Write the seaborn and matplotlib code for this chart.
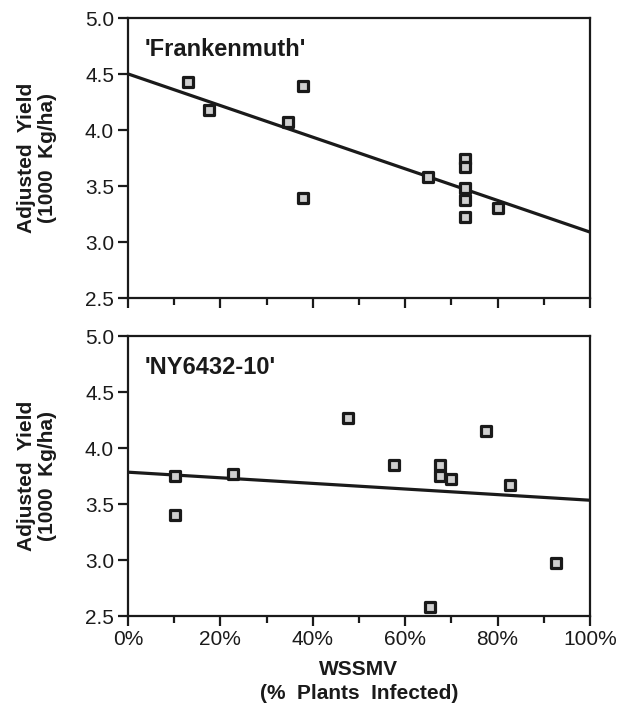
import numpy as np
import pandas as pd
import matplotlib
matplotlib.use("Agg")
import matplotlib.pyplot as plt
from matplotlib.ticker import MultipleLocator, PercentFormatter
import seaborn as sns

# values (percent infected, yield in 1000 kg/ha)
frank_infected = [13.0, 17.6, 34.6, 37.8, 37.8, 65.0, 72.9, 72.9, 72.9, 72.9, 72.9, 80.2]
frank_yield = [4.43, 4.18, 4.07, 4.39, 3.39, 3.58, 3.74, 3.67, 3.48, 3.375, 3.22, 3.30]

ny_infected = [10.2, 10.2, 22.8, 47.7, 57.6, 77.5, 67.5, 67.5, 69.9, 82.8, 92.7, 65.3]
ny_yield = [3.75, 3.40, 3.77, 4.27, 3.85, 4.15, 3.85, 3.75, 3.72, 3.67, 2.97, 2.58]

panel_names = ["'Frankenmuth'", "'NY6432-10'"]
y_ticks = [2.5, 3.0, 3.5, 4.0, 4.5, 5.0]

frank = pd.DataFrame({"infected": frank_infected, "yield": frank_yield})
ny = pd.DataFrame({"infected": ny_infected, "yield": ny_yield})

sns.set_style("ticks")
plt.rcParams["font.family"] = ["Liberation Sans", "DejaVu Sans"]

fig = plt.figure(figsize=(6.33, 7.07), dpi=100)
ax1 = fig.add_axes([0.2022, 0.5785, 0.7298, 0.396])
ax2 = fig.add_axes([0.2022, 0.1287, 0.7298, 0.396])

ink = "#1a1a1a"
for ax, df, name in zip([ax1, ax2], [frank, ny], panel_names):
    ax.set_xlim(0, 100)
    ax.set_ylim(2.5, 5.0)
    sns.regplot(data=df, x="infected", y="yield", ax=ax, ci=None, truncate=False,
                marker="s",
                scatter_kws={"s": 46, "facecolor": "#d0d0d0", "edgecolor": ink,
                             "linewidths": 2.3, "alpha": 1, "zorder": 3},
                line_kws={"color": ink, "lw": 2.3, "zorder": 2})
    ax.set_xlim(0, 100)
    ax.set_ylim(2.5, 5.0)
    ax.set_yticks(y_ticks)
    ax.yaxis.set_major_formatter(matplotlib.ticker.FormatStrFormatter("%.1f"))
    ax.xaxis.set_major_locator(MultipleLocator(20))
    ax.xaxis.set_minor_locator(MultipleLocator(10))
    ax.xaxis.set_major_formatter(PercentFormatter(decimals=0))
    ax.tick_params(axis="both", which="major", direction="out", length=7,
                   width=1.6, color=ink, labelsize=15, labelcolor=ink, pad=3)
    ax.tick_params(axis="x", which="minor", direction="out", length=5,
                   width=1.6, color=ink)
    for s in ax.spines.values():
        s.set_visible(True)
        s.set_linewidth(1.6)
        s.set_color(ink)
    ax.set_xlabel("")
    ax.set_ylabel("Adjusted  Yield\n(1000  Kg/ha)", fontsize=15,
                  fontweight="bold", color=ink, labelpad=20, linespacing=1.15)
    ax.text(0.035, 0.93, name, transform=ax.transAxes, fontsize=17,
            fontweight="bold", color=ink, va="top", ha="left")

ax1.tick_params(axis="x", labelbottom=False)
ax2.set_xlabel("WSSMV\n(%  Plants  Infected)", fontsize=15, fontweight="bold",
               color=ink, labelpad=8, linespacing=1.3)

fig.savefig("out.png", dpi=100)
